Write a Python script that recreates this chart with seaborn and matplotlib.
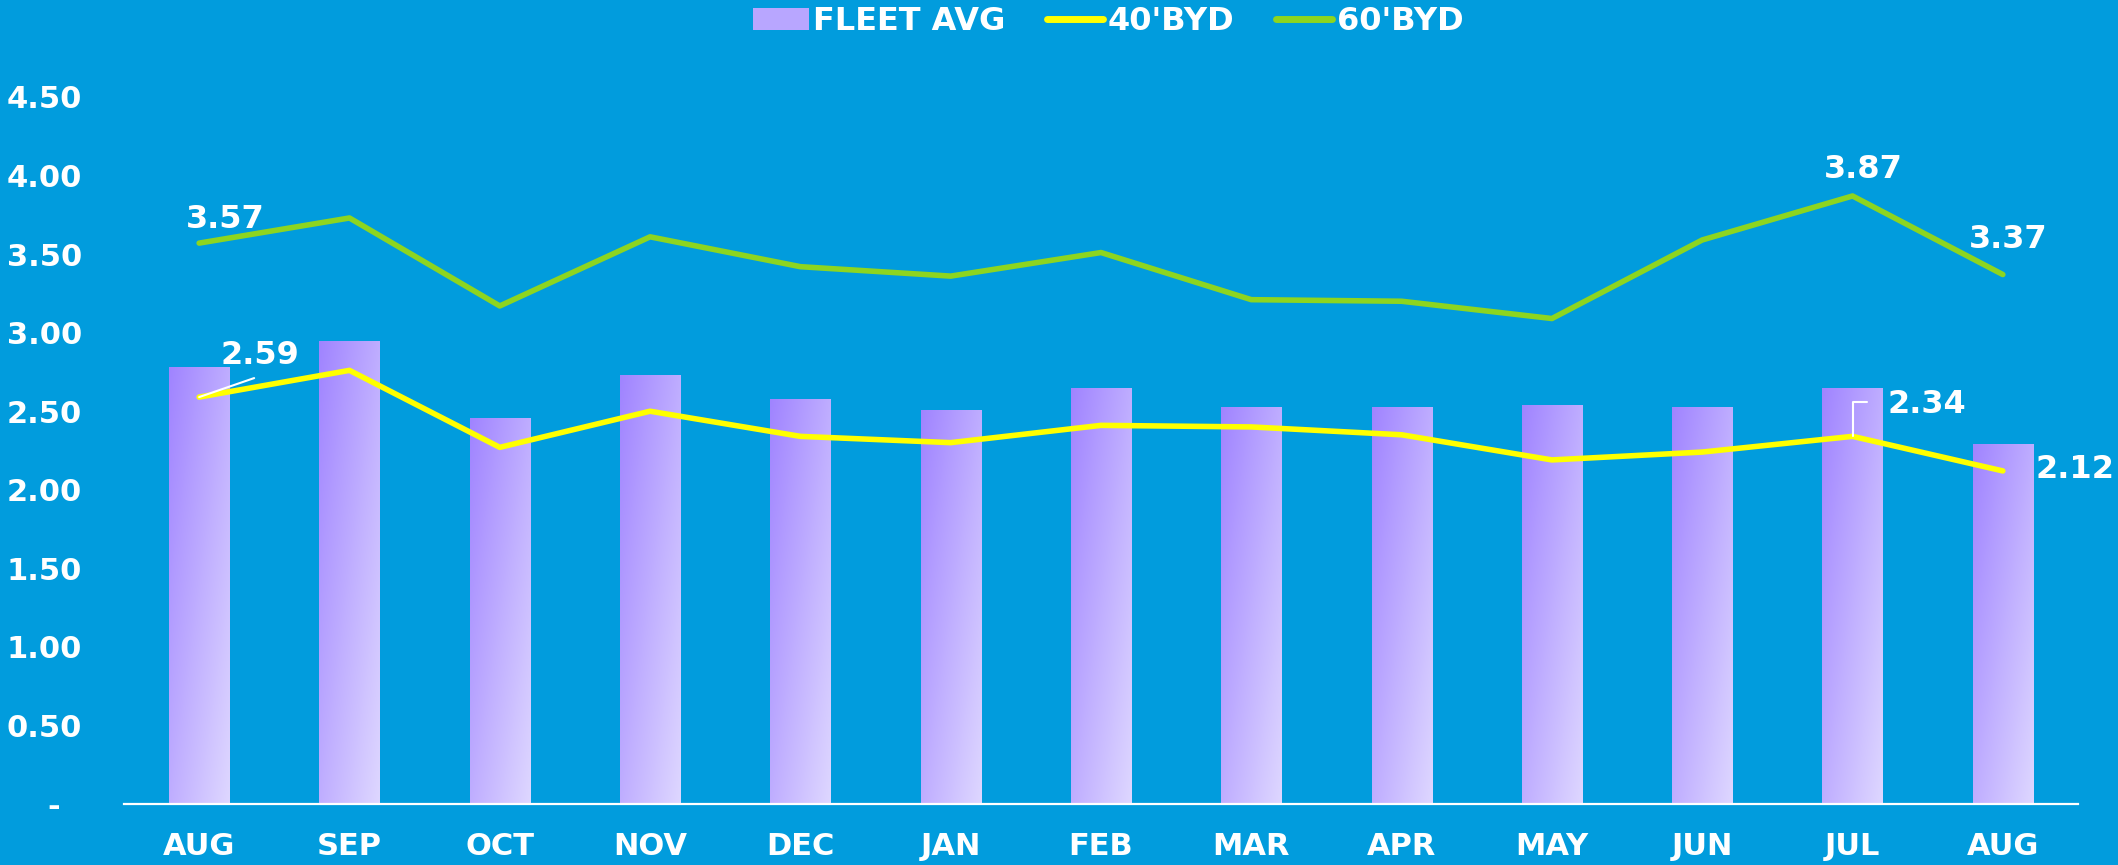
import numpy as np
import pandas as pd
import matplotlib
matplotlib.use("Agg")
import matplotlib.pyplot as plt
import seaborn as sns
from matplotlib.colors import LinearSegmentedColormap
from matplotlib.patches import Patch
from matplotlib.lines import Line2D

# ---- data ----
months = ["AUG", "SEP", "OCT", "NOV", "DEC", "JAN", "FEB", "MAR", "APR", "MAY", "JUN", "JUL", "AUG"]
fleet_avg = [2.78, 2.95, 2.46, 2.73, 2.58, 2.51, 2.65, 2.53, 2.53, 2.54, 2.53, 2.65, 2.29]
byd40 = [2.59, 2.76, 2.27, 2.50, 2.34, 2.30, 2.41, 2.40, 2.35, 2.19, 2.24, 2.34, 2.12]
byd60 = [3.57, 3.73, 3.17, 3.61, 3.42, 3.36, 3.51, 3.21, 3.20, 3.09, 3.59, 3.87, 3.37]
ytick_values = [0, 0.5, 1.0, 1.5, 2.0, 2.5, 3.0, 3.5, 4.0, 4.5]
ytick_labels = ["-  ", "0.50", "1.00", "1.50", "2.00", "2.50", "3.00", "3.50", "4.00", "4.50"]
series_names = ["FLEET AVG", "40'BYD", "60'BYD"]

BG = "#019CDD"
YELLOW = "#FFFF00"
GREEN = "#8DD520"

sns.set_theme(style="white")
plt.rcParams["font.family"] = ["DejaVu Sans"]
plt.rcParams["font.weight"] = "bold"

W, H = 2118, 865
fig = plt.figure(figsize=(W / 100, H / 100), dpi=100, facecolor=BG)
ax = fig.add_axes([124 / W, (H - 804) / H, (2078 - 124) / W, (804 - 97) / H])
ax.set_facecolor(BG)

idx = list(range(len(months)))
df = pd.DataFrame({"idx": idx, "fleet": fleet_avg, "b40": byd40, "b60": byd60})

sns.barplot(data=df, x="idx", y="fleet", ax=ax, width=0.4, color="#B8A6FF",
            saturation=1, zorder=1)

# gradient fill for bars
cmap = LinearSegmentedColormap.from_list("bargrad", ["#A084FF", "#DED7FF"])
n = 64
u = np.linspace(0, 1, n)
grad = (u[None, :] * 0.5 + u[:, None] * 0.5)
for bar in list(ax.patches):
    x0, y0 = bar.get_x(), bar.get_y()
    w, h = bar.get_width(), bar.get_height()
    bar.set_facecolor("none")
    bar.set_edgecolor("none")
    im = ax.imshow(grad, extent=[x0, x0 + w, y0, y0 + h], origin="upper",
                   cmap=cmap, aspect="auto", zorder=1.5, interpolation="bilinear")
    im.set_clip_path(bar)

sns.lineplot(data=df, x="idx", y="b40", ax=ax, color=YELLOW, lw=4, zorder=3,
             solid_capstyle="round")
sns.lineplot(data=df, x="idx", y="b60", ax=ax, color=GREEN, lw=4, zorder=3,
             solid_capstyle="round")

ax.set_xlim(-0.5, len(months) - 0.5)
ax.set_ylim(0, 4.5)
ax.set_xlabel("")
ax.set_ylabel("")
ax.set_xticks(idx)
ax.set_xticklabels(months, fontsize=22, color="white", fontweight="bold")
ax.set_yticks(ytick_values)
ax.set_yticklabels(ytick_labels, fontsize=22, color="white", fontweight="bold")
ax.tick_params(axis="x", length=0, pad=20)
ax.tick_params(axis="y", length=0, pad=30)
for s in ["top", "right", "left"]:
    ax.spines[s].set_visible(False)
ax.spines["bottom"].set_color("white")
ax.spines["bottom"].set_linewidth(1.6)
ax.spines["bottom"].set_zorder(4)
ax.grid(False)

# data labels
lab_kw = dict(textcoords="offset pixels", ha="center", va="center", color="white",
              fontsize=23, fontweight="bold", zorder=5)
ax.annotate(f"{byd60[0]:.2f}", xy=(0, byd60[0]), xytext=(26, 24), **lab_kw)
ax.annotate(f"{byd60[11]:.2f}", xy=(11, byd60[11]), xytext=(11, 26), **lab_kw)
ax.annotate(f"{byd60[12]:.2f}", xy=(12, byd60[12]), xytext=(5, 35), **lab_kw)
ax.annotate(f"{byd40[0]:.2f}", xy=(0, byd40[0]), xytext=(61, 42), **lab_kw)
ax.annotate(f"{byd40[11]:.2f}", xy=(11, byd40[11]), xytext=(74, 32), **lab_kw)
ax.annotate(f"{byd40[12]:.2f}", xy=(12, byd40[12]), xytext=(72, 1), **lab_kw)

# leader lines
ax.annotate("", xy=(0, byd40[0]), xytext=(55, 19), textcoords="offset pixels",
            arrowprops=dict(arrowstyle="-", color="white", lw=1.5, shrinkA=0, shrinkB=0),
            zorder=4)
ax.annotate("", xy=(11, byd40[11]), xytext=(14, 34), textcoords="offset pixels",
            arrowprops=dict(arrowstyle="-", color="white", lw=1.5, shrinkA=0, shrinkB=0,
                            connectionstyle="angle,angleA=0,angleB=90,rad=0"),
            zorder=4)

handles = [Patch(facecolor="#B8A6FF", edgecolor="none"),
           Line2D([0], [0], color=YELLOW, lw=5, solid_capstyle="round"),
           Line2D([0], [0], color=GREEN, lw=5, solid_capstyle="round")]
leg = fig.legend(handles, series_names, loc="center", bbox_to_anchor=(1108 / W, 1 - 22 / H),
                 ncol=3, frameon=False, handlelength=1.75, handleheight=0.67,
                 handletextpad=0.15, columnspacing=1.3,
                 prop={"size": 23, "weight": "bold"}, labelcolor="white")

fig.savefig("out.png", dpi=100, facecolor=BG)
